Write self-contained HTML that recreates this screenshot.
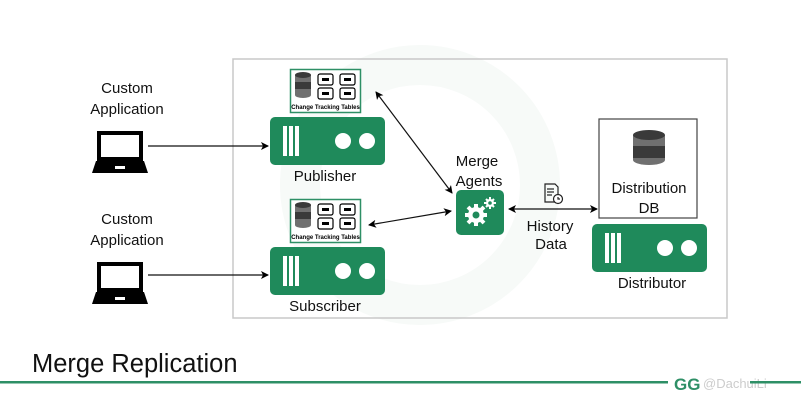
<!DOCTYPE html>
<html><head><meta charset="utf-8"><style>
html,body{margin:0;padding:0;background:#fff;}
svg{display:block;font-family:"Liberation Sans",sans-serif;}
</style></head><body>
<svg width="801" height="401" viewBox="0 0 801 401" xmlns="http://www.w3.org/2000/svg">
<defs>
<marker id="ar" markerWidth="8" markerHeight="8" refX="7" refY="4" orient="auto-start-reverse" markerUnits="userSpaceOnUse">
<path d="M0,0 L8,4 L0,8 L2,4 Z" fill="#000"/></marker>
<g id="tbl">
<rect x="0.5" y="0.5" width="70" height="43" fill="#fff" stroke="#2e8f66" stroke-width="1.5"/>
<path d="M5,6 v20 a8,3 0 0 0 16,0 v-20 z" fill="#707070"/>
<rect x="5" y="13" width="16" height="7" fill="#3a3a3a"/>
<ellipse cx="13" cy="6" rx="8" ry="3" fill="#3a3a3a"/>
<g fill="#fff" stroke="#000" stroke-width="1.2">
<rect x="28" y="5" width="15" height="11" rx="2"/><rect x="50" y="5" width="15" height="11" rx="2"/>
<rect x="28" y="19" width="15" height="11" rx="2"/><rect x="50" y="19" width="15" height="11" rx="2"/>
</g>
<g fill="#000"><rect x="32" y="9" width="7" height="3"/><rect x="54" y="9" width="7" height="3"/><rect x="32" y="23" width="7" height="3"/><rect x="54" y="23" width="7" height="3"/></g>
<text x="35.5" y="40" font-size="6" font-weight="bold" text-anchor="middle">Change Tracking Tables</text>
</g>
<g id="srv">
<rect x="0" y="0" width="115" height="48" rx="5" fill="#1f8a5b"/>
<rect x="13" y="9" width="4" height="30" fill="#fff"/><rect x="19" y="9" width="4" height="30" fill="#fff"/><rect x="25" y="9" width="4" height="30" fill="#fff"/>
<circle cx="73" cy="24" r="8" fill="#fff"/><circle cx="97" cy="24" r="8" fill="#fff"/>
</g>
<g id="lap">
<rect x="6" y="0" width="46" height="30" fill="#000"/>
<rect x="10" y="4" width="38" height="22" fill="#fff"/>
<path d="M5,30 L53,30 L57,42 L1,42 Z" fill="#000"/>
<rect x="24" y="35" width="10" height="3" fill="#fff"/>
</g>
</defs>
<circle cx="420" cy="185" r="120" fill="none" stroke="#f7faf8" stroke-width="40"/>
<rect x="233" y="59" width="494" height="259" fill="none" stroke="#c8c8c8" stroke-width="1.5"/>

<g font-size="15" text-anchor="middle" fill="#111">
<text x="127" y="93">Custom</text><text x="127" y="114">Application</text>
<text x="127" y="224">Custom</text><text x="127" y="245">Application</text>
<text x="325" y="181">Publisher</text>
<text x="325" y="311">Subscriber</text>
<text x="477" y="166">Merge</text><text x="479" y="186">Agents</text>
<text x="550" y="231">History</text><text x="551" y="249">Data</text>
<text x="649" y="193">Distribution</text><text x="649" y="213">DB</text>
<text x="652" y="288">Distributor</text>
</g>

<use href="#lap" transform="translate(91,131)"/>
<use href="#lap" transform="translate(91,262)"/>
<use href="#tbl" transform="translate(290,69)"/>
<use href="#tbl" transform="translate(290,199)"/>
<use href="#srv" transform="translate(270,117)"/>
<use href="#srv" transform="translate(270,247)"/>
<use href="#srv" transform="translate(592,224)"/>

<rect x="599" y="119" width="98" height="99" fill="none" stroke="#444" stroke-width="1.2"/>
<path d="M633,135 v25 a16,5 0 0 0 32,0 v-25 z" fill="#707070"/>
<rect x="633" y="146" width="32" height="12" fill="#3a3a3a"/>
<ellipse cx="649" cy="135" rx="16" ry="5" fill="#3a3a3a"/>

<rect x="456" y="190" width="48" height="45" rx="5" fill="#1f8a5b"/>
<g fill="#fff">
<circle cx="476" cy="215" r="8"/>
<g stroke="#fff" stroke-width="4"><line x1="476" y1="204" x2="476" y2="226"/><line x1="465" y1="215" x2="487" y2="215"/><line x1="468" y1="207" x2="484" y2="223"/><line x1="484" y1="207" x2="468" y2="223"/></g>
<circle cx="490" cy="203" r="4"/>
<g stroke="#fff" stroke-width="2"><line x1="490" y1="197" x2="490" y2="209"/><line x1="484" y1="203" x2="496" y2="203"/><line x1="486" y1="199" x2="494" y2="207"/><line x1="494" y1="199" x2="486" y2="207"/></g>
</g>
<circle cx="476" cy="215" r="3.5" fill="#1f8a5b"/>
<circle cx="490" cy="203" r="1.8" fill="#1f8a5b"/>

<g fill="none" stroke="#222" stroke-width="1.2">
<path d="M545,184 h10 l3,3 v15 h-13 z"/>
<line x1="547" y1="189" x2="554" y2="189"/><line x1="547" y1="192" x2="554" y2="192"/><line x1="547" y1="195" x2="552" y2="195"/>
<circle cx="558" cy="199" r="4.5" fill="#fff"/>
<path d="M558,197 v2 h2"/>
</g>

<g stroke="#111" stroke-width="1.2" fill="none">
<line x1="148" y1="146" x2="268" y2="146" marker-end="url(#ar)"/>
<line x1="148" y1="275" x2="268" y2="275" marker-end="url(#ar)"/>
<line x1="376" y1="92" x2="452" y2="193" marker-start="url(#ar)" marker-end="url(#ar)"/>
<line x1="369" y1="225" x2="451" y2="211" marker-start="url(#ar)" marker-end="url(#ar)"/>
<line x1="509" y1="209" x2="597" y2="209" marker-start="url(#ar)" marker-end="url(#ar)"/>
</g>

<text x="32" y="372" font-size="25.5" fill="#111">Merge Replication</text>
<rect x="0" y="381" width="801" height="2.5" fill="#2e8f66"/>
<rect x="668" y="372" width="133" height="22" fill="#fff"/>
<text x="674" y="390" font-size="17" font-weight="bold" fill="#2e8f66">GG</text>
<text x="703" y="388" font-size="13" fill="#ccc">@DachuiLi</text>
<rect x="750" y="381" width="51" height="2.5" fill="#2e8f66"/>
</svg>
</body></html>
